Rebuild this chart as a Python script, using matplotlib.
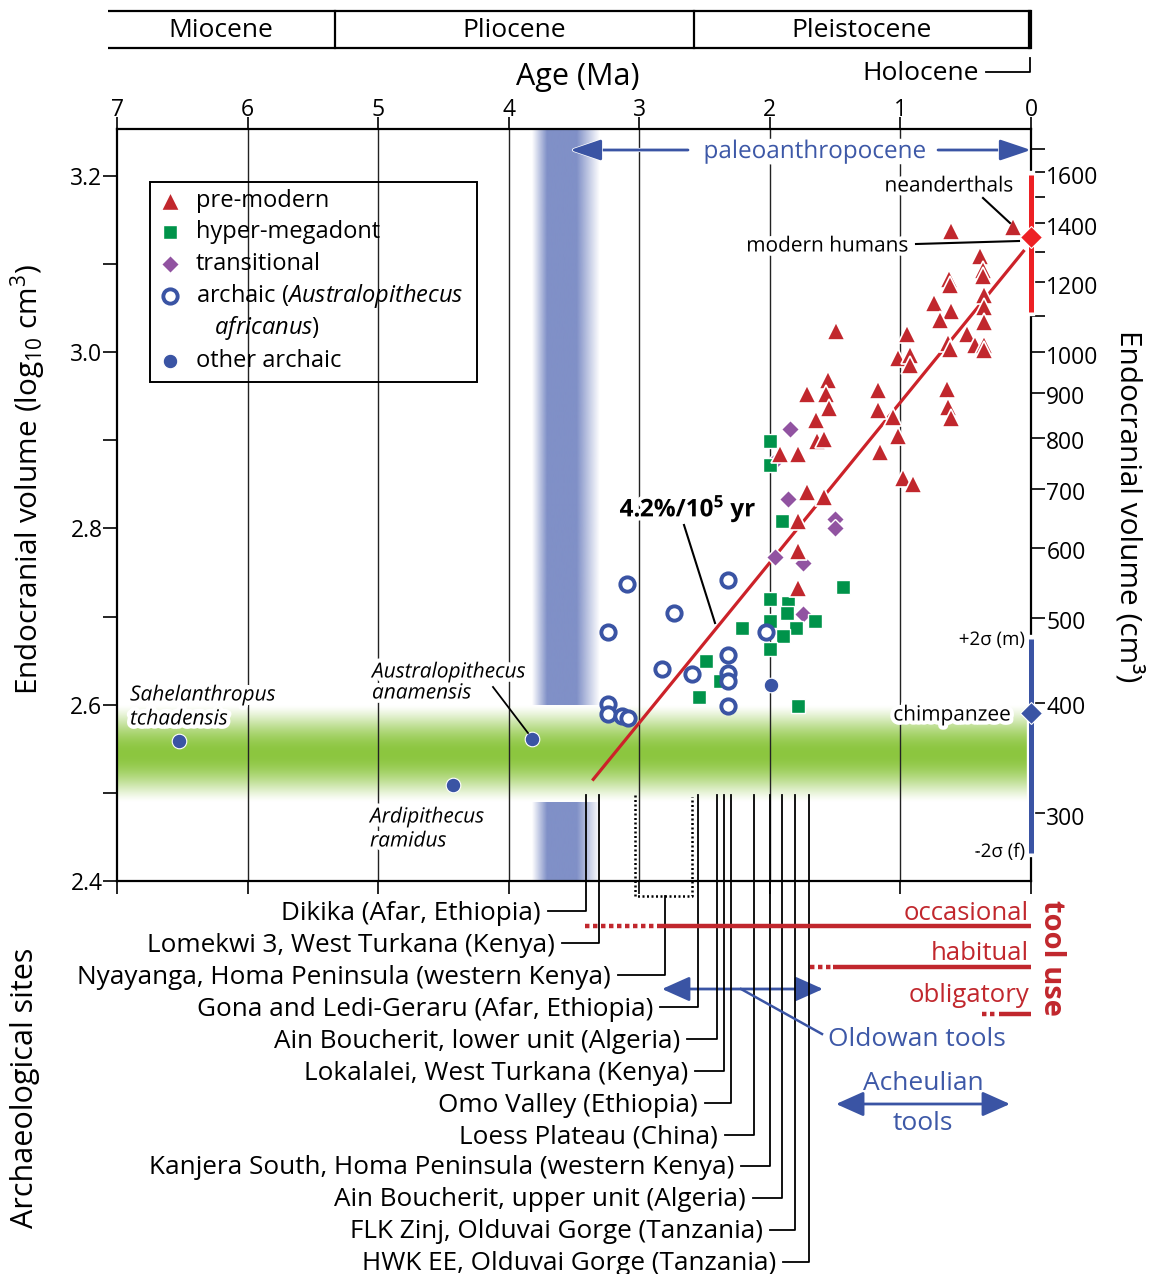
import numpy as np
import matplotlib
matplotlib.use("Agg")
import matplotlib.pyplot as plt
from matplotlib import transforms
import matplotlib.patheffects as pe
from matplotlib.lines import Line2D
from matplotlib.patches import FancyArrowPatch, ArrowStyle
from matplotlib.colors import to_rgb

plt.rcParams['font.family'] = ['Open Sans', 'DejaVu Sans']
plt.rcParams['mathtext.fontset'] = 'custom'
plt.rcParams['mathtext.rm'] = 'Open Sans'
plt.rcParams['mathtext.it'] = 'Open Sans:italic'
plt.rcParams['mathtext.bf'] = 'Open Sans:bold'

W, H = 1150, 1274

# ---------------------------------------------------------------- data
epoch_names = ["Miocene", "Pliocene", "Pleistocene"]
epoch_bounds = [7.07, 5.333, 2.58, 0.0117, 0.0]

premodern_age = [0.136, 0.615, 0.391, 0.365, 0.365, 0.626, 0.620, 0.360, 0.360, 0.743,
                 0.615, 0.697, 0.360, 0.493, 0.952, 0.633, 0.620, 0.429, 0.360, 0.360,
                 1.016, 0.927, 0.927, 1.493, 1.553, 1.718, 1.572, 1.169, 1.545, 1.169,
                 0.646, 0.638, 0.615, 1.647, 1.055, 1.637, 1.585, 1.922, 1.782, 1.021,
                 1.156, 0.983, 0.901, 1.718, 1.585, 1.787, 1.787, 1.782]
premodern_log = [3.142, 3.138, 3.109, 3.093, 3.086, 3.083, 3.076, 3.065, 3.051, 3.056,
                 3.047, 3.037, 3.034, 3.021, 3.021, 3.010, 3.004, 3.008, 3.008, 3.002,
                 2.994, 2.997, 2.986, 3.024, 2.969, 2.953, 2.953, 2.957, 2.937, 2.935,
                 2.958, 2.938, 2.925, 2.923, 2.927, 2.899, 2.901, 2.884, 2.884, 2.905,
                 2.887, 2.857, 2.850, 2.841, 2.836, 2.809, 2.775, 2.733]

hyper_age = [2.0, 2.0, 1.91, 2.0, 1.864, 1.871, 2.0, 2.211, 1.80, 1.654, 1.902, 2.0,
             2.489, 2.382, 2.543, 1.782, 1.442]
hyper_log = [2.899, 2.872, 2.809, 2.720, 2.715, 2.704, 2.695, 2.687, 2.687, 2.695, 2.678,
             2.663, 2.650, 2.627, 2.609, 2.599, 2.734]

trans_age = [1.846, 1.974, 1.864, 1.499, 1.499, 1.96, 1.744, 1.744]
trans_log = [2.913, 2.874, 2.834, 2.811, 2.801, 2.768, 2.761, 2.703]

africanus_age = [3.097, 2.318, 2.732, 3.237, 2.030, 2.318, 2.829, 2.599, 2.318, 2.318,
                 2.318, 3.237, 3.237, 3.129, 3.086]
africanus_log = [2.737, 2.741, 2.704, 2.683, 2.683, 2.656, 2.640, 2.635, 2.636, 2.627,
                 2.599, 2.601, 2.590, 2.587, 2.585]

other_age = [6.525, 4.424, 3.819, 1.994]
other_log = [2.559, 2.509, 2.561, 2.622]

trend_age = [3.36, 0.05]
trend_log = [2.514, 3.116]
trend_label = r"4.2%/10$^\mathbf{5}$ yr"

modern_cc_mean = 1350
modern_cc_range = [1110, 1590]
chimp_cc_mean = 390
chimp_cc_range = [270, 473]

paleo_band = [3.82, 3.30]
chimp_band_log = [2.49, 2.60]

gridline_ages = [6, 5, 4, 3, 2, 1]
left_major = [2.4, 2.6, 2.8, 3.0, 3.2]
left_minor = [2.5, 2.7, 2.9, 3.1]
right_tick_cc = [300, 400, 500, 600, 700, 800, 900, 1000, 1100, 1200, 1300, 1400, 1500, 1600, 1700]
right_label_cc = [300, 400, 500, 600, 700, 800, 900, 1000, 1200, 1400, 1600]

site_names = ["Dikika (Afar, Ethiopia)",
              "Lomekwi 3, West Turkana (Kenya)",
              "Nyayanga, Homa Peninsula (western Kenya)",
              "Gona and Ledi-Geraru (Afar, Ethiopia)",
              "Ain Boucherit, lower unit (Algeria)",
              "Lokalalei, West Turkana (Kenya)",
              "Omo Valley (Ethiopia)",
              "Loess Plateau (China)",
              "Kanjera South, Homa Peninsula (western Kenya)",
              "Ain Boucherit, upper unit (Algeria)",
              "FLK Zinj, Olduvai Gorge (Tanzania)",
              "HWK EE, Olduvai Gorge (Tanzania)"]
site_age = [3.408, 3.309, 2.803, 2.550, 2.405, 2.350, 2.300, 2.120, 2.000, 1.910, 1.810, 1.700]
nyayanga_range = [3.03, 2.60]

tool_use_names = ["occasional", "habitual", "obligatory"]
tool_use_dotted = [(3.416, 2.83), (1.693, 1.52), (0.375, 0.26)]
tool_use_solid = [(2.83, 0.0), (1.52, 0.0), (0.245, 0.0)]

oldowan_range = [2.826, 1.593]
acheulian_range = [1.493, 0.161]
paleo_arrow_left = [2.627, 3.531]
paleo_arrow_right = [0.712, 0.0]

# ---------------------------------------------------------------- style
RED = '#c1272d'
GREEN = '#00934a'
PURPLE = '#9153a1'
BLUE = '#3a54a4'
BAND_BLUE = '#8090c7'
BAND_GREEN = '#8cc63f'
TREND = '#cc2229'
MH_RED = '#ed2024'
TEXT_BLUE = '#3d58a7'

L, R, T, B = 117, 1031, 129, 881
YMIN, YMAX = 2.4, 3.2533
DY = 3  # text baseline correction (px)

fig = plt.figure(figsize=(W / 100, H / 100), dpi=100)
ax = fig.add_axes([L / W, 1 - B / H, (R - L) / W, (B - T) / H])
ax2 = ax.twinx()


def P(x, y):
    return x / W, 1 - y / H


def PT(x, y):
    return x / W, 1 - (y + DY) / H


def fy(y):
    return 1 - y / H


def px2age(px):
    return 7.0 * (R - px) / (R - L)


bt = transforms.blended_transform_factory(ax.transData, fig.transFigure)
halo = [pe.withStroke(linewidth=6, foreground='white')]

# ---------------------------------------------------------------- bands
nx = 256
u = np.linspace(0, 1, nx)
a = np.interp(u, [0, 0.22, 0.66, 1.0], [0, 1, 1, 0])
img = np.ones((1, nx, 4))
img[..., :3] = to_rgb(BAND_BLUE)
img[0, :, 3] = a
ax.imshow(img, extent=[paleo_band[0], paleo_band[1], YMIN, YMAX], aspect='auto',
          interpolation='bilinear', zorder=0.5)

ny = 256
t = np.linspace(0, 1, ny)
f = np.sin(np.pi * t) ** 1.3
g = np.array(to_rgb(BAND_GREEN))
gimg = (1 - f)[:, None, None] * np.ones(3) + f[:, None, None] * g
ax.imshow(gimg, extent=[7, 0.02, chimp_band_log[0], chimp_band_log[1]], aspect='auto',
          interpolation='bilinear', zorder=0.6)

for ga in gridline_ages:
    ax.axvline(ga, color='#222222', lw=1.0, zorder=1.5)

# ---------------------------------------------------------------- data marks
ax.plot(trend_age, trend_log, color=TREND, lw=2.3, zorder=3, solid_capstyle='butt')
ax.plot(trans_age, trans_log, ls='none', marker='D', ms=9, mfc=PURPLE, mec='white', mew=1.0, zorder=4)
ax.plot(hyper_age, hyper_log, ls='none', marker='s', ms=10, mfc=GREEN, mec='white', mew=1.0, zorder=5)
ax.plot(premodern_age, premodern_log, ls='none', marker='^', ms=13.5, mfc=RED, mec='white', mew=1.2, zorder=6)
ax.plot(africanus_age, africanus_log, ls='none', marker='o', ms=10.3, mfc='white', mec=BLUE, mew=2.8, zorder=7)
ax.plot(other_age, other_log, ls='none', marker='o', ms=10.5, mfc=BLUE, mec='white', mew=0.8, zorder=7)

# modern humans & chimpanzee ranges on right spine
for rng, mean, col in ((modern_cc_range, modern_cc_mean, MH_RED), (chimp_cc_range, chimp_cc_mean, BLUE)):
    ax2.plot([0, 0], np.log10(rng), color=col, lw=3.6, solid_capstyle='butt',
             clip_on=False, zorder=10,
             path_effects=[pe.Stroke(linewidth=6.0, foreground='white', capstyle='projecting'), pe.Normal()])
    ax2.plot([0], [np.log10(mean)], marker='D', ms=11, color=col, mec='white', mew=0.8,
             clip_on=False, zorder=11)

# ---------------------------------------------------------------- axes styling
ax.set_xlim(7, 0)
ax.set_ylim(YMIN, YMAX)
ax2.set_ylim(YMIN, YMAX)
for sp in ['left', 'top', 'bottom']:
    ax.spines[sp].set_linewidth(1.6)
ax.spines['right'].set_visible(False)
for sp in ['left', 'top', 'bottom']:
    ax2.spines[sp].set_visible(False)
ax2.spines['right'].set_linewidth(1.6)

ax.set_xticks(range(8))
ax.set_xticklabels([str(i) for i in range(8)])
ax.set_xticks(np.round(np.arange(0, 7.001, 0.1), 1), minor=True)
ax.tick_params(axis='x', which='both', direction='out', top=True, bottom=True,
               labeltop=True, labelbottom=False, width=1.2, labelsize=16.5, pad=-4)
ax.tick_params(axis='x', which='major', length=9)
ax.tick_params(axis='x', which='minor', length=5)

ax.set_yticks(left_major)
ax.set_yticklabels([f"{v:.1f}" for v in left_major])
ax.set_yticks(left_minor, minor=True)
ax.tick_params(axis='y', which='both', direction='out', length=10, width=1.2,
               labelsize=16.5, pad=0.5)

ax2.set_yticks(np.log10(right_tick_cc))
ax2.set_yticklabels([str(v) if v in right_label_cc else '' for v in right_tick_cc])
ax2.minorticks_off()
ax2.tick_params(axis='y', direction='out', length=10, width=1.2, labelsize=16.5, pad=1)
shift = transforms.ScaledTranslation(0, -2.5 / 100, fig.dpi_scale_trans)
for lbl in ax2.get_yticklabels():
    lbl.set_transform(lbl.get_transform() + shift)

# ---------------------------------------------------------------- axis titles
fig.text(*P(28, 480), "Endocranial volume (log$_{10}$ cm$^3$)", rotation=90, ha='center',
         va='center', fontsize=21.5)
fig.text(*P(1128, 506), "Endocranial volume (cm³)", rotation=270, ha='center', va='center',
         fontsize=21.5)
fig.text(*P(25, 1088), "Archaeological sites", rotation=90, ha='center', va='center', fontsize=22)
fig.text(*PT(578, 74), "Age (Ma)", ha='center', va='center', fontsize=22)

# ---------------------------------------------------------------- epoch bar
ytop, ybot = fy(11), fy(48)
for yy in (ytop, ybot):
    fig.add_artist(Line2D([epoch_bounds[0], epoch_bounds[-1]], [yy, yy], transform=bt,
                          color='k', lw=1.6, solid_capstyle='butt'))
for bnd in epoch_bounds[1:]:
    fig.add_artist(Line2D([bnd, bnd], [ytop, ybot], transform=bt, color='k', lw=1.6))
for name, a0, a1 in zip(epoch_names, epoch_bounds[:-1], epoch_bounds[1:]):
    fig.text((a0 + a1) / 2, fy(30.5), name, transform=bt, ha='center', va='center', fontsize=19)
fig.text(*PT(979, 70), "Holocene", ha='right', va='center', fontsize=19)
hol = (epoch_bounds[3] + epoch_bounds[4]) / 2
fig.add_artist(Line2D([px2age(986), hol, hol], [fy(72), fy(72), fy(58)], transform=bt,
                      color='k', lw=1.3))

# ---------------------------------------------------------------- legend (manual)
fig.add_artist(plt.Rectangle(P(150, 382), (477 - 150) / W, (382 - 182) / H,
                             transform=fig.transFigure, fill=False, ec='k', lw=1.4))
leg_rows = [(201, '^', dict(ms=13, mfc=RED, mec='white', mew=1.0), "pre-modern"),
            (232, 's', dict(ms=10, mfc=GREEN, mec='white', mew=1.0), "hyper-megadont"),
            (264, 'D', dict(ms=9, mfc=PURPLE, mec='white', mew=1.0), "transitional"),
            (296, 'o', dict(ms=10.3, mfc='white', mec=BLUE, mew=2.8), r"archaic ($\mathit{Australopithecus}$"),
            (328, None, {}, r"   $\mathit{africanus}$)"),
            (361, 'o', dict(ms=10.5, mfc=BLUE, mec='white', mew=0.8), "other archaic")]
for yrow, mk, kw, lab in leg_rows:
    if mk is not None:
        fig.add_artist(Line2D([170 / W], [fy(yrow)], transform=fig.transFigure, ls='none',
                              marker=mk, **kw))
    fig.text(*P(196, yrow), lab, ha='left', va='center', fontsize=17)

# ---------------------------------------------------------------- annotations in plot
fig.text(*PT(815, 149), "paleoanthropocene", ha='center', va='center', fontsize=17.5,
         color=TEXT_BLUE, path_effects=[pe.withStroke(linewidth=9, foreground='white')])
head = ArrowStyle('-|>', head_length=0.95, head_width=0.32)
for a0, a1 in (paleo_arrow_left, paleo_arrow_right):
    fig.add_artist(FancyArrowPatch((a0, fy(150)), (a1, fy(150)), transform=bt,
                                   arrowstyle=head, mutation_scale=20, color=BLUE, lw=2.0,
                                   shrinkA=0, shrinkB=0,
                                   path_effects=[pe.withStroke(linewidth=3.0, foreground='white')]))

fig.text(*PT(949, 183), "neanderthals", ha='center', va='center', fontsize=15, path_effects=halo)
fig.add_artist(Line2D([983 / W, 1010 / W], [fy(198), fy(223)], transform=fig.transFigure,
                      color='k', lw=1.5))
fig.text(*PT(827, 243), "modern humans", ha='center', va='center', fontsize=15, path_effects=halo)
fig.add_artist(Line2D([916 / W, 1019 / W], [fy(244), fy(241)], transform=fig.transFigure,
                      color='k', lw=1.5))
fig.text(*PT(952, 712), "chimpanzee", ha='center', va='center', fontsize=15, path_effects=halo)
fig.text(*PT(1025, 637), "+2σ (m)", ha='right', va='center', fontsize=13.5, path_effects=halo)
fig.text(*PT(1025, 849), "-2σ (f)", ha='right', va='center', fontsize=13.5, path_effects=halo)

fig.text(*PT(688, 506), trend_label, ha='center', va='center', fontsize=17.5,
         fontweight='bold', path_effects=halo)
fig.add_artist(Line2D([684 / W, 715 / W], [fy(525), fy(623)], transform=fig.transFigure,
                      color='k', lw=1.5))

it = dict(style='italic', fontsize=15, ha='left', va='center', path_effects=halo)
fig.text(*PT(130, 692), "Sahelanthropus", **it)
fig.text(*PT(130, 716), "tchadensis", **it)
fig.text(*PT(372, 669), "Australopithecus", **it)
fig.text(*PT(372, 690), "anamensis", **it)
fig.add_artist(Line2D([493 / W, 528 / W], [fy(687), fy(733)], transform=fig.transFigure,
                      color='k', lw=1.3))
fig.text(*PT(370, 814), "Ardipithecus", **it)
fig.text(*PT(370, 838), "ramidus", **it)

# ---------------------------------------------------------------- archaeological sites
row_y = [911, 943, 975, 1007, 1039, 1071, 1103, 1135, 1166, 1198, 1230, 1262]
label_right = [541, 555, 611, 653, 680, 688, 698, 718, 734, 746, 763, 776]
top_y = 795
for i, (name, age, yr, xr) in enumerate(zip(site_names, site_age, row_y, label_right)):
    fig.text(*PT(xr, yr - 1), name, ha='right', va='center', fontsize=18.8)
    ytop_line = 896 if i == 2 else top_y
    fig.add_artist(Line2D([px2age(xr + 7), age, age], [fy(yr), fy(yr), fy(ytop_line)],
                          transform=bt, color='k', lw=1.3))
# Nyayanga dotted bracket
fig.add_artist(Line2D([nyayanga_range[0], nyayanga_range[0], nyayanga_range[1], nyayanga_range[1]],
                      [fy(top_y), fy(896), fy(896), fy(top_y + 2)], transform=bt, color='k',
                      lw=1.8, ls=(0, (0.8, 1.0))))

# tool use
tool_y_line = [926, 967, 1014]
tool_y_text = [910, 951, 993]
for name, (d0, d1), (s0, s1), yl, yt in zip(tool_use_names, tool_use_dotted, tool_use_solid,
                                            tool_y_line, tool_y_text):
    fig.add_artist(Line2D([d0, d1], [fy(yl), fy(yl)], transform=bt, color=RED, lw=3.2,
                          ls=(0, (1.0, 0.8)), dash_capstyle='butt'))
    fig.add_artist(Line2D([s0, s1], [fy(yl), fy(yl)], transform=bt, color=RED, lw=3.2,
                          solid_capstyle='butt'))
    fig.text(*PT(1029, yt), name, ha='right', va='center', fontsize=18.5, color=RED)
fig.text(*P(1052, 958), "tool use", rotation=270, ha='center', va='center', fontsize=21,
         fontweight='bold', color=RED)

# stone tool industries
dbl = ArrowStyle('<|-|>', head_length=0.85, head_width=0.38)
fig.add_artist(FancyArrowPatch((oldowan_range[0], fy(989)), (oldowan_range[1], fy(989)),
                               transform=bt, arrowstyle=dbl, mutation_scale=20, color=BLUE,
                               lw=2.0, shrinkA=0, shrinkB=0))
fig.add_artist(Line2D([741 / W, 822 / W], [fy(989), fy(1034)], transform=fig.transFigure,
                      color=BLUE, lw=1.8))
fig.text(*PT(828, 1036), "Oldowan tools", ha='left', va='center', fontsize=19, color=TEXT_BLUE)
fig.add_artist(FancyArrowPatch((acheulian_range[0], fy(1104)), (acheulian_range[1], fy(1104)),
                               transform=bt, arrowstyle=dbl, mutation_scale=20, color=BLUE,
                               lw=2.0, shrinkA=0, shrinkB=0))
fig.text(*PT(923, 1080), "Acheulian", ha='center', va='center', fontsize=19, color=TEXT_BLUE)
fig.text(*PT(923, 1120), "tools", ha='center', va='center', fontsize=19, color=TEXT_BLUE)

fig.savefig("out.png", dpi=100)
